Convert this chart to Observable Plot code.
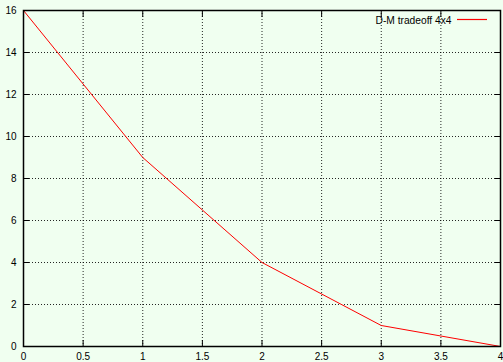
<!DOCTYPE html>
<html>
<head>
<meta charset="utf-8">
<script src="https://cdn.jsdelivr.net/npm/d3@7"></script>
<script src="https://cdn.jsdelivr.net/npm/@observablehq/plot@0.6"></script>
<style>
  html, body { margin: 0; padding: 0; background: #f0fff0; }
</style>
</head>
<body>
<div id="wrap"></div>
<script>
const xs = [0, 1, 2, 3, 4];
const ys = [16, 9, 4, 1, 0];
const seriesName = "D-M tradeoff 4x4";
const xTicks = [0, 0.5, 1, 1.5, 2, 2.5, 3, 3.5, 4];
const yTicks = [0, 2, 4, 6, 8, 10, 12, 14, 16];

const data = xs.map((x, i) => ({x, y: ys[i]}));

// legend swatch, placed relative to the frame's top-right corner
const legendSwatch = (index, scales, values, dims) => {
  const xr = dims.width - dims.marginRight;
  const yt = dims.marginTop;
  return d3.create("svg:line")
    .attr("x1", xr - 43).attr("x2", xr - 13)
    .attr("y1", yt + 9.5).attr("y2", yt + 9.5)
    .attr("stroke", "#ff0000").attr("stroke-width", 1.2)
    .node();
};

const chart = Plot.plot({
  width: 503,
  height: 362,
  marginLeft: 23,
  marginRight: 3,
  marginTop: 10,
  marginBottom: 16,
  style: {background: "#f0fff0", fontFamily: "'Liberation Sans', Arial, sans-serif", fontSize: "10px", color: "#000"},
  x: {domain: [0, 4]},
  y: {domain: [0, 16]},
  marks: [
    Plot.ruleX(xTicks.slice(1, -1), {stroke: "#000", strokeOpacity: 0.85, strokeDasharray: "1,2"}),
    Plot.ruleY(yTicks.slice(1, -1), {stroke: "#000", strokeOpacity: 0.85, strokeDasharray: "1,2"}),
    Plot.axisX(xTicks, {anchor: "bottom", tickSize: 0, tickPadding: 6, label: null, tickFormat: d => String(d)}),
    Plot.axisY(yTicks, {anchor: "left", tickSize: 0, tickPadding: 7, label: null, tickFormat: d => String(d)}),
    Plot.axisX(xTicks, {anchor: "bottom", tickSize: -6, text: null, label: null, strokeWidth: 1}),
    Plot.axisX(xTicks, {anchor: "top", tickSize: -6, text: null, label: null, strokeWidth: 1}),
    Plot.axisY(yTicks, {anchor: "left", tickSize: -6, text: null, label: null, strokeWidth: 1}),
    Plot.axisY(yTicks, {anchor: "right", tickSize: -6, text: null, label: null, strokeWidth: 1}),
    Plot.line(data, {x: "x", y: "y", stroke: "#ff0000", strokeWidth: 1}),
    Plot.text([seriesName], {frameAnchor: "top-right", dx: -49, dy: 10, textAnchor: "end", lineAnchor: "middle", fill: "#000", fontSize: 10, className: "legend-text"}),
    legendSwatch,
    Plot.frame({stroke: "#000", strokeWidth: 1.5})
  ]
});
document.getElementById("wrap").append(chart);
// match the legend label's width to the reference
d3.select(chart).selectAll(".legend-text text")
  .attr("textLength", 76).attr("lengthAdjust", "spacingAndGlyphs");
</script>
</body>
</html>
